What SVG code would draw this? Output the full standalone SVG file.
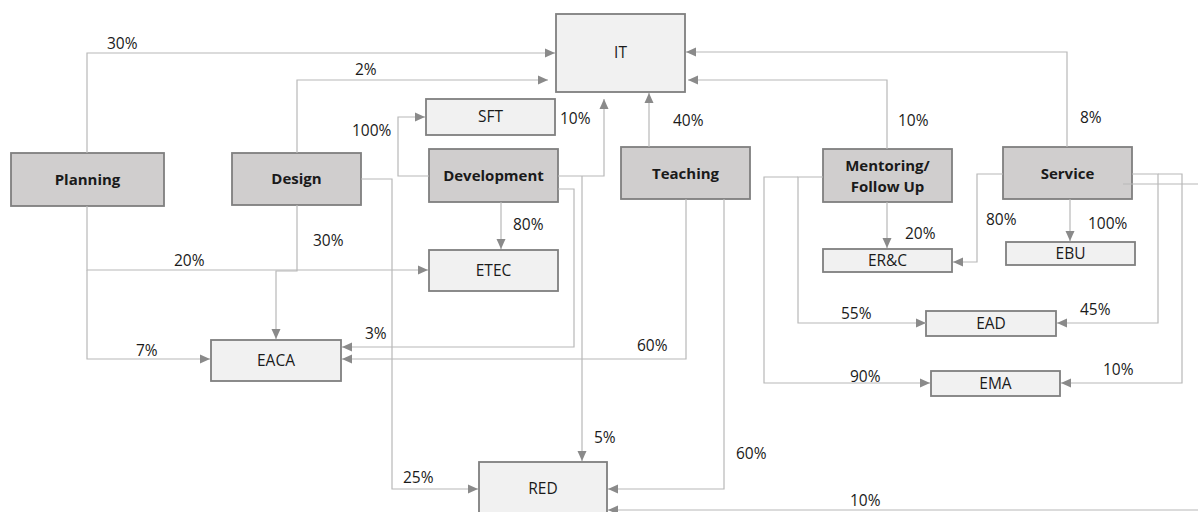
<svg xmlns="http://www.w3.org/2000/svg" width="1198" height="512" viewBox="0 0 1198 512">
<style>
.dk{fill:#d0cece;stroke:#7f7f7f;stroke-width:1.8}
.lt{fill:#f1f1f1;stroke:#7f7f7f;stroke-width:1.8}
.bt{font-family:"Open Sans","Liberation Sans",sans-serif;font-weight:bold;font-size:15px;fill:#1a1a1a;text-anchor:middle}
.nt{font-family:"Open Sans","Liberation Sans",sans-serif;font-size:15.5px;fill:#1a1a1a;text-anchor:middle}
.lb{font-family:"Open Sans","Liberation Sans",sans-serif;font-size:15.5px;fill:#1a1a1a}
.c{fill:none;stroke:#b8b8b8;stroke-width:1.2;marker-end:url(#ah)}
</style>
<defs>
<marker id="ah" markerUnits="userSpaceOnUse" markerWidth="10" markerHeight="10" viewBox="0 0 10 10" refX="10" refY="5" orient="auto">
<path d="M0,0.5 L10,5 L0,9.5 Z" fill="#8a8a8a"/>
</marker>
</defs>
<rect width="1198" height="512" fill="#ffffff"/>
<g id="IT"><rect class="lt" x="556" y="14" width="129" height="78"/><text class="nt" x="620.5" y="58">IT</text></g>
<g id="SFT"><rect class="lt" x="426" y="99" width="129" height="36"/><text class="nt" x="490.5" y="122">SFT</text></g>
<g id="Planning"><rect class="dk" x="11" y="153" width="153" height="53"/><text class="bt" x="87.5" y="185">Planning</text></g>
<g id="Design"><rect class="dk" x="232" y="153" width="129" height="52"/><text class="bt" x="296.5" y="184">Design</text></g>
<g id="Development"><rect class="dk" x="429" y="149" width="129" height="53"/><text class="bt" x="493.5" y="181">Development</text></g>
<g id="Teaching"><rect class="dk" x="621" y="147" width="129" height="52"/><text class="bt" x="685.5" y="179">Teaching</text></g>
<g id="Mentoring"><rect class="dk" x="823" y="149" width="129" height="53"/><text class="bt" x="887.5" y="171">Mentoring/</text><text class="bt" x="887.5" y="192">Follow Up</text></g>
<g id="Service"><rect class="dk" x="1003" y="147" width="129" height="52"/><text class="bt" x="1067.5" y="179">Service</text></g>
<g id="ETEC"><rect class="lt" x="429" y="250" width="129" height="41"/><text class="nt" x="493.5" y="276">ETEC</text></g>
<g id="EACA"><rect class="lt" x="211" y="340" width="130" height="41"/><text class="nt" x="276" y="366">EACA</text></g>
<g id="RED"><rect class="lt" x="479" y="462" width="128" height="52"/><text class="nt" x="543" y="494">RED</text></g>
<g id="ERC"><rect class="lt" x="823" y="249" width="129" height="23"/><text class="nt" x="887.5" y="266">ER&amp;C</text></g>
<g id="EBU"><rect class="lt" x="1006" y="242" width="129" height="23"/><text class="nt" x="1070.5" y="259">EBU</text></g>
<g id="EAD"><rect class="lt" x="926" y="311" width="130" height="25"/><text class="nt" x="991" y="329">EAD</text></g>
<g id="EMA"><rect class="lt" x="931" y="371" width="129" height="25"/><text class="nt" x="995.5" y="389">EMA</text></g>
<g id="connectors">
<path class="c" d="M87,153 V53 H555"/>
<path class="c" d="M297,153 V80 H548"/>
<path class="c" d="M361,179 H392 V489 H478"/>
<path class="c" d="M297,205 V271 H276 V339"/>
<path class="c" d="M87,206 V270 H428"/>
<path class="c" d="M87,270 V359 H210"/>
<path class="c" d="M429,176 H398 V117 H425"/>
<path class="c" d="M558,176 H604 V99"/>
<path class="c" d="M582,176 V461"/>
<path class="c" d="M558,189 H574 V347 H342"/>
<path class="c" d="M501,202 V249"/>
<path class="c" d="M649,147 V93"/>
<path class="c" d="M686,199 V359 H342"/>
<path class="c" d="M724,199 V489 H608"/>
<path class="c" d="M887,149 V80 H688"/>
<path class="c" d="M1067,147 V52 H686"/>
<path class="c" d="M887,202 V248"/>
<path class="c" d="M1003,174 H977 V262 H953"/>
<path class="c" d="M1070,199 V241"/>
<path class="c" d="M823,177 H798 V323 H926"/>
<path class="c" d="M798,177 H764 V383 H930"/>
<path class="c" d="M1132,174 H1158 V323 H1057"/>
<path class="c" d="M1158,174 H1182 V383 H1061"/>
<path class="c" d="M1123,184 H1215 V510 H608"/>
</g>
<g id="labels">
<text class="lb" x="107" y="49">30%</text>
<text class="lb" x="355" y="75">2%</text>
<text class="lb" x="352" y="136">100%</text>
<text class="lb" x="313" y="246">30%</text>
<text class="lb" x="174" y="266">20%</text>
<text class="lb" x="560" y="124">10%</text>
<text class="lb" x="673" y="126">40%</text>
<text class="lb" x="513" y="230">80%</text>
<text class="lb" x="637" y="351">60%</text>
<text class="lb" x="594" y="443">5%</text>
<text class="lb" x="736" y="459">60%</text>
<text class="lb" x="403" y="483">25%</text>
<text class="lb" x="136" y="356">7%</text>
<text class="lb" x="365" y="339">3%</text>
<text class="lb" x="898" y="126">10%</text>
<text class="lb" x="1080" y="123">8%</text>
<text class="lb" x="986" y="225">80%</text>
<text class="lb" x="1088" y="229">100%</text>
<text class="lb" x="905" y="239">20%</text>
<text class="lb" x="841" y="319">55%</text>
<text class="lb" x="1080" y="315">45%</text>
<text class="lb" x="850" y="382">90%</text>
<text class="lb" x="1103" y="375">10%</text>
<text class="lb" x="850" y="506">10%</text>
</g>
</svg>
